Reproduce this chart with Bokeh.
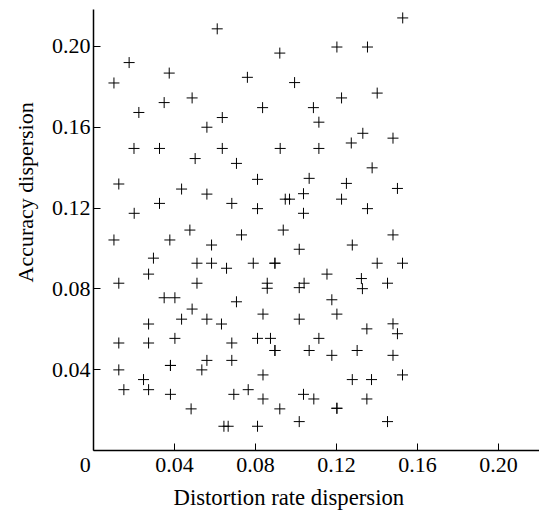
from bokeh.plotting import figure
from bokeh.models import Range1d, FixedTicker, Title, NumeralTickFormatter
from bokeh.embed import file_html
from bokeh.resources import INLINE

# Distortion rate dispersion (x) and Accuracy dispersion (y)
distortion = [
    0.1527, 0.0611, 0.1202, 0.1353, 0.0920, 0.0176, 0.0374, 0.0760, 0.0101, 0.0993,
    0.0487, 0.1225, 0.1401, 0.0349, 0.0835, 0.1086, 0.0224, 0.0636, 0.1113, 0.0560,
    0.1330, 0.1479, 0.1273, 0.0200, 0.0326, 0.0636, 0.0922, 0.1113, 0.0502, 0.0706,
    0.1376, 0.0810, 0.1065, 0.0125, 0.1249, 0.0435, 0.1501, 0.0560, 0.1037, 0.0947,
    0.0968, 0.1225, 0.0326, 0.0683, 0.0810, 0.1353, 0.0201, 0.1037, 0.0476, 0.0937,
    0.0101, 0.0377, 0.0731, 0.1479, 0.0583, 0.1278, 0.1016, 0.0296, 0.0511, 0.0583,
    0.0789, 0.0896, 0.0896, 0.1401, 0.1526, 0.0657, 0.0272, 0.1153, 0.1323, 0.0125,
    0.0511, 0.0858, 0.0858, 0.1040, 0.1016, 0.1328, 0.1452, 0.0349, 0.0402, 0.0706,
    0.1177, 0.0487, 0.0837, 0.1202, 0.0435, 0.0560, 0.1016, 0.0272, 0.0632, 0.1479,
    0.1350, 0.1501, 0.0125, 0.0272, 0.0402, 0.0683, 0.0810, 0.0874, 0.1113, 0.0896,
    0.0896, 0.1065, 0.1302, 0.1177, 0.1479, 0.0380, 0.0380, 0.0560, 0.0683, 0.0125,
    0.0535, 0.0837, 0.1526, 0.0247, 0.1278, 0.1373, 0.0150, 0.0272, 0.0764, 0.0380,
    0.0693, 0.1037, 0.0837, 0.1088, 0.1350, 0.0482, 0.0920, 0.1202, 0.1202, 0.1016,
    0.1452, 0.0644, 0.0665, 0.0810,
]
accuracy = [
    0.2141, 0.2087, 0.1997, 0.1997, 0.1967, 0.1920, 0.1868, 0.1847, 0.1819, 0.1821,
    0.1745, 0.1745, 0.1769, 0.1722, 0.1697, 0.1697, 0.1673, 0.1648, 0.1625, 0.1600,
    0.1570, 0.1546, 0.1522, 0.1495, 0.1495, 0.1495, 0.1495, 0.1495, 0.1445, 0.1421,
    0.1399, 0.1342, 0.1347, 0.1319, 0.1322, 0.1294, 0.1297, 0.1269, 0.1271, 0.1244,
    0.1244, 0.1244, 0.1223, 0.1223, 0.1197, 0.1197, 0.1174, 0.1174, 0.1091, 0.1091,
    0.1042, 0.1042, 0.1067, 0.1067, 0.1017, 0.1017, 0.0996, 0.0952, 0.0927, 0.0927,
    0.0927, 0.0927, 0.0927, 0.0927, 0.0927, 0.0902, 0.0873, 0.0873, 0.0851, 0.0828,
    0.0828, 0.0828, 0.0803, 0.0828, 0.0806, 0.0801, 0.0828, 0.0756, 0.0756, 0.0736,
    0.0746, 0.0700, 0.0675, 0.0675, 0.0650, 0.0650, 0.0650, 0.0626, 0.0626, 0.0627,
    0.0602, 0.0578, 0.0532, 0.0532, 0.0555, 0.0532, 0.0555, 0.0555, 0.0555, 0.0495,
    0.0495, 0.0495, 0.0495, 0.0471, 0.0471, 0.0421, 0.0421, 0.0446, 0.0446, 0.0399,
    0.0399, 0.0374, 0.0374, 0.0351, 0.0351, 0.0351, 0.0301, 0.0301, 0.0301, 0.0278,
    0.0278, 0.0278, 0.0255, 0.0255, 0.0255, 0.0206, 0.0206, 0.0209, 0.0209, 0.0143,
    0.0143, 0.0120, 0.0120, 0.0120,
]

x_ticks = [0, 0.04, 0.08, 0.12, 0.16, 0.20]
y_ticks = [0.04, 0.08, 0.12, 0.16, 0.20]
x_title = "Distortion rate dispersion"
y_title = "Accuracy dispersion"
origin_label = "0\u00a0\u00a0\u00a0"

FONT = "Liberation Serif"

p = figure(width=539, height=512, output_backend="svg", toolbar_location=None,
           x_range=Range1d(0, 0.22025), y_range=Range1d(0, 0.21827),
           min_border_left=93, min_border_right=0, min_border_top=9,
           min_border_bottom=61, background_fill_color="white",
           border_fill_color="white", outline_line_color=None)

p.xgrid.visible = False
p.ygrid.visible = False

for ax, ticks in ((p.xaxis[0], x_ticks), (p.yaxis[0], y_ticks)):
    ax.ticker = FixedTicker(ticks=ticks)
    ax.formatter = NumeralTickFormatter(format="0.00")
    ax.major_tick_in = 7
    ax.major_tick_out = 0
    ax.minor_tick_in = 0
    ax.minor_tick_out = 0
    ax.axis_line_width = 1.5
    ax.axis_line_color = "black"
    ax.major_tick_line_color = "black"
    ax.major_tick_line_width = 1
    ax.major_label_text_font = FONT
    ax.major_label_text_font_size = "22px"
    ax.major_label_text_color = "black"

p.xaxis.major_label_overrides = {0: origin_label}
p.xaxis.major_label_standoff = 1
p.yaxis.major_label_standoff = 3

p.scatter(distortion, accuracy, marker="cross", size=11,
          line_color="black", line_width=1)

p.add_layout(Title(text=x_title, align="left", offset=80, standoff=6,
                   text_font=FONT, text_font_size="22.7px",
                   text_font_style="normal", text_color="black"), "below")
p.add_layout(Title(text=y_title, align="left", offset=168, standoff=18,
                   vertical_align="top",
                   text_font=FONT, text_font_size="22px",
                   text_font_style="normal", text_color="black"), "left")

open("out.html", "w").write(file_html(p, INLINE))
